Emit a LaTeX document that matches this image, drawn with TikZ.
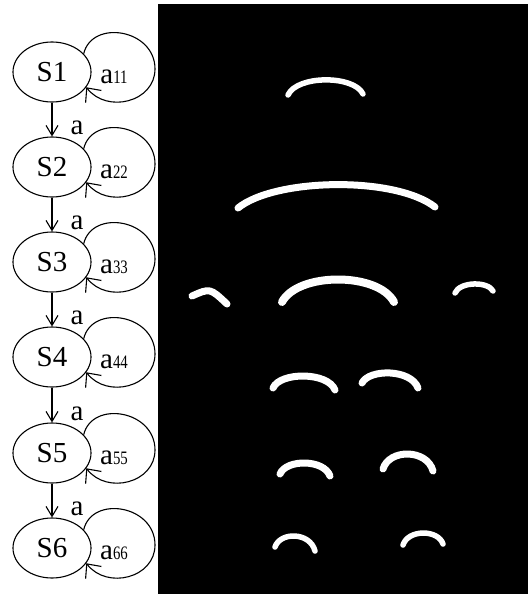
\documentclass[tikz,border=0pt]{standalone}
\usepackage{fontspec}
\setmainfont{Liberation Serif}
\usepackage{graphicx}
\usetikzlibrary{arrows.meta,shapes.geometric,calc}
\newcommand{\lsub}[1]{\scalebox{0.78}[1]{\fontsize{19}{19}\selectfont #1}}
\begin{document}
\begin{tikzpicture}[x=1pt,y=-1pt,
  state/.style={ellipse,draw,line width=1.1pt,fill=white,minimum width=78pt,minimum height=60pt,inner sep=0pt,font=\fontsize{29}{29}\selectfont},
  lab/.style={inner sep=0pt,font=\fontsize{29}{29}\selectfont},
  selfloop/.style={line width=1.1pt,-{Straight Barb[length=11pt,width=20pt,line width=1.1pt]}},
  flow/.style={line width=1.1pt,-{Straight Barb[length=10pt,width=12pt,line width=1.1pt]}},
  blob/.style={draw=white,line width=7pt,line cap=round},
  thinblob/.style={draw=white,line width=5.5pt,line cap=round}]
\useasboundingbox (0,0) rectangle (528,594);
% image panel
\fill[black] (158,4) rectangle (528,594);
% state nodes
\foreach \i/\y in {1/72,2/167,3/262,4/357,5/453,6/548}
  \node[state] (S\i) at (52,\y) {\raisebox{-2pt}{S\i}};
% self loops and their labels
\foreach \i in {1,...,6}{
  \draw[selfloop] (S\i.30) .. controls ($(S\i)+(40,-53)$) and ($(S\i)+(103,-43)$) .. ($(S\i)+(103,-3)$)
     .. controls ($(S\i)+(103,30)$) and ($(S\i)+(55,42)$) .. (S\i.-24);
  \node[lab] (L\i) at ($(S\i)+(62,5)$) {a\lsub{\i\i}};
}
% transitions
\foreach \i in {1,...,5}{
  \pgfmathtruncatemacro{\j}{\i+1}
  \draw[flow] (S\i.south) -- (S\j.north);
  \node[lab] (A\i) at ($(S\j.north)+(25,-9)$) {a};
}
% white arcs in the panel
\draw[thinblob] (288,95) .. controls (297,75) and (354,75) .. (363,94);
\draw[blob] (238,208) .. controls (275,178) and (395,176) .. (435,207);
\draw[blob,line width=8pt] (282,302) .. controls (298,272) and (378,272) .. (394,302);
\draw[blob] (192,296) .. controls (210,288) .. (227,304);
\draw[thinblob] (455,293) .. controls (460,281.3) and (488,281.3) .. (493,291);
\draw[blob] (273,388) .. controls (280,371.7) and (328,371.7) .. (335,390);
\draw[blob] (362,383) .. controls (369,368.8) and (411,368.8) .. (418,388);
\draw[blob] (280,474) .. controls (286,459) and (324,459) .. (330,476);
\draw[blob] (383,469) .. controls (389,448.7) and (427,448.7) .. (433,471);
\draw[thinblob] (275,547) .. controls (280,531.7) and (310,531.7) .. (315,551);
\draw[thinblob] (403,545) .. controls (408,529.2) and (438,529.2) .. (443,544);
\end{tikzpicture}
\end{document}
